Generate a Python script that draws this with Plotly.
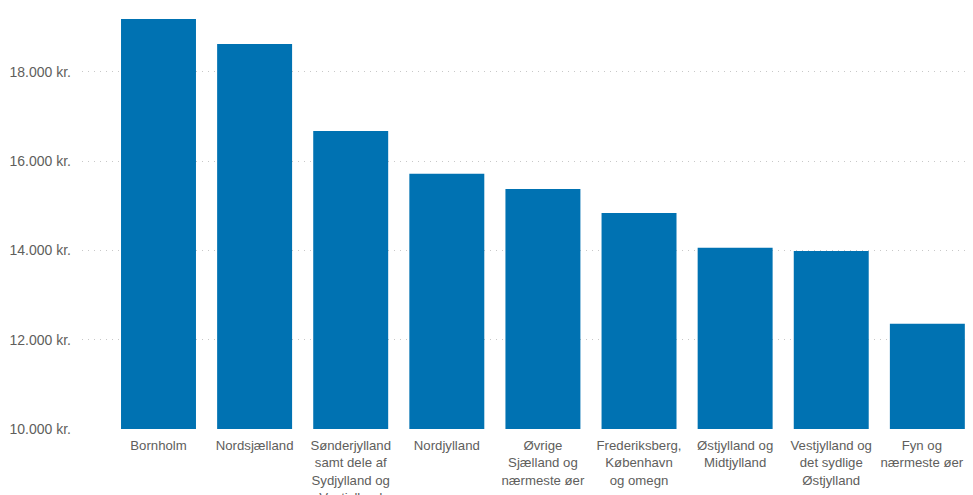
import plotly.graph_objects as go

categories = ["Bornholm", "Nordsjælland", "Sønderjylland samt dele af Sydjylland og Vestjylland",
              "Nordjylland", "Øvrige Sjælland og nærmeste øer", "Frederiksberg, København og omegn",
              "Østjylland og Midtjylland", "Vestjylland og det sydlige Østjylland", "Fyn og nærmeste øer"]
values = [19190, 18630, 16680, 15720, 15380, 14840, 14060, 13990, 12360]
pad = "\u00a0" * 3
tick_labels = ["Bornholm", "Nordsjælland", "Sønderjylland<br>samt dele af<br>Sydjylland og<br>Vestjylland",
               "Nordjylland", "Øvrige<br>Sjælland og<br>nærmeste øer", "Frederiksberg,<br>København<br>og omegn",
               "Østjylland og<br>Midtjylland", "Vestjylland og<br>det sydlige<br>Østjylland",
               "Fyn og" + pad + "<br>nærmeste øer" + pad]
y_ticks = [10000, 12000, 14000, 16000, 18000]
y_tick_labels = ["10.000 kr.", "12.000 kr.", "14.000 kr.", "16.000 kr.", "18.000 kr."]

fig = go.Figure(go.Bar(
    x=categories, y=values,
    marker=dict(color="#0072b2", line=dict(width=0)),
    width=0.78,
))

fig.update_layout(
    width=965, height=487,
    margin=dict(l=74, r=0, t=0, b=66, autoexpand=False),
    paper_bgcolor="white", plot_bgcolor="white",
    font=dict(family="Liberation Sans, Arial, sans-serif", size=14, color="#605e5c"),
    showlegend=False,
)
fig.update_xaxes(
    tickvals=categories, ticktext=tick_labels,
    range=[-0.796, 8.475],
    showgrid=False, showline=False, ticks="",
    tickangle=0, automargin=False,
    ticklabelstandoff=7, ticklabeloverflow="allow",
    tickfont=dict(size=13.2, color="#605e5c"),
)
fig.update_yaxes(
    range=[10000, 19434],
    tickvals=y_ticks, ticktext=y_tick_labels,
    showgrid=True, gridcolor="#c8c8c8", griddash="1px,5px", gridwidth=1,
    zeroline=False, showline=False, ticks="", automargin=False,
    ticklabelstandoff=10,
    tickfont=dict(size=14, color="#605e5c"),
)

fig.write_html("out.html")
